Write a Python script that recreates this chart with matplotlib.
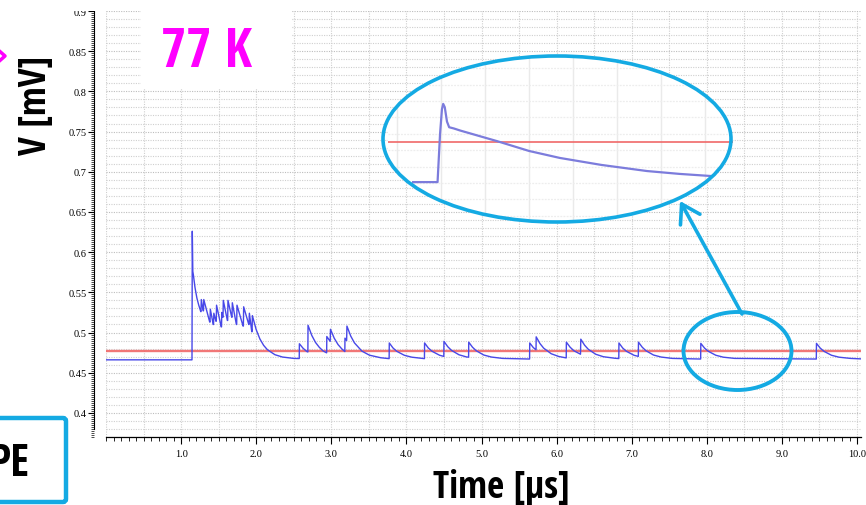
import matplotlib
matplotlib.use("Agg")
import matplotlib.pyplot as plt
from matplotlib.patches import Ellipse, FancyArrowPatch, FancyBboxPatch, Rectangle
from matplotlib.ticker import FixedLocator, MultipleLocator
from matplotlib.transforms import Affine2D
from matplotlib import font_manager
from matplotlib.font_manager import FontProperties

# ---------------- data ----------------
# main simulated trace: time [us], voltage [mV]
time_us = [0.000, 1.145, 1.149, 1.156, 1.163, 1.185, 1.210, 1.235, 1.262,
           1.265, 1.269, 1.294, 1.298, 1.302, 1.381, 1.385, 1.389, 1.428, 1.432, 1.436,
           1.464, 1.468, 1.472, 1.534, 1.538, 1.542, 1.554, 1.558, 1.562, 1.616, 1.620, 1.624,
           1.674, 1.678, 1.682, 1.736, 1.740, 1.744, 1.825, 1.829, 1.833, 1.901, 1.905, 1.909,
           1.941, 1.945, 1.949,
           1.999, 2.049, 2.099, 2.149, 2.249, 2.349, 2.499, 2.573,
           2.575, 2.625, 2.675, 2.688,
           2.690, 2.740, 2.790, 2.840, 2.890, 2.938,
           2.940, 2.985, 2.989, 3.039, 3.089, 3.139, 3.180,
           3.182, 3.204, 3.208, 3.258, 3.308, 3.408, 3.508, 3.658, 3.770,
           3.772, 3.822, 3.872, 3.972, 4.072, 4.240,
           4.242, 4.292, 4.342, 4.442, 4.498,
           4.500, 4.550, 4.600, 4.700, 4.800, 4.828,
           4.830, 4.880, 4.930, 5.030, 5.130, 5.280, 5.640,
           5.642, 5.690, 5.726,
           5.728, 5.778, 5.828, 5.928, 6.028, 6.128,
           6.130, 6.180, 6.230, 6.318,
           6.322, 6.372, 6.422, 6.522, 6.622, 6.772, 6.828,
           6.830, 6.880, 6.930, 7.030, 7.088,
           7.090, 7.140, 7.190, 7.290, 7.390, 7.540, 7.918,
           7.920, 7.970, 8.020, 8.120, 8.220, 8.370, 9.458,
           9.460, 9.510, 9.560, 9.660, 9.760, 9.910, 10.050]
volt_mv = [0.466, 0.466, 0.626, 0.576, 0.572, 0.556, 0.543, 0.534, 0.526,
           0.526, 0.541, 0.527, 0.527, 0.541, 0.513, 0.513, 0.529, 0.510, 0.510, 0.524,
           0.514, 0.514, 0.534, 0.507, 0.507, 0.525, 0.519, 0.519, 0.540, 0.515, 0.515, 0.540,
           0.519, 0.519, 0.537, 0.510, 0.510, 0.534, 0.508, 0.508, 0.532, 0.510, 0.510, 0.524,
           0.501, 0.501, 0.521,
           0.5038, 0.4920, 0.4840, 0.4786, 0.4724, 0.4695, 0.4678, 0.4676,
           0.4860, 0.4803, 0.4763, 0.4758,
           0.5090, 0.4964, 0.4876, 0.4816, 0.4771, 0.4747,
           0.4950, 0.4890, 0.5040, 0.4929, 0.4851, 0.4797, 0.4763,
           0.4930, 0.4900, 0.5080, 0.4957, 0.4871, 0.4768, 0.4718, 0.4686, 0.4675,
           0.4870, 0.4807, 0.4766, 0.4717, 0.4693, 0.4675,
           0.4870, 0.4807, 0.4766, 0.4717, 0.4703,
           0.4890, 0.4824, 0.4778, 0.4723, 0.4696, 0.4693,
           0.4880, 0.4817, 0.4773, 0.4720, 0.4695, 0.4678, 0.4670,
           0.4870, 0.4812, 0.4785,
           0.4946, 0.4863, 0.4805, 0.4736, 0.4702, 0.4684,
           0.4880, 0.4817, 0.4773, 0.4730,
           0.4917, 0.4843, 0.4791, 0.4729, 0.4699, 0.4680, 0.4676,
           0.4870, 0.4807, 0.4766, 0.4717, 0.4703,
           0.4880, 0.4817, 0.4773, 0.4720, 0.4695, 0.4678, 0.4670,
           0.4865, 0.4806, 0.4766, 0.4717, 0.4693, 0.4678, 0.4670,
           0.4865, 0.4806, 0.4766, 0.4717, 0.4693, 0.4678, 0.4672]
threshold_mv = 0.477

# zoomed view of one pulse (inset)
inset_t = [7.880, 7.958, 7.966, 7.972, 7.976, 7.981, 7.988, 7.995, 8.010, 8.030,
           8.148, 8.250, 8.348, 8.480, 8.626, 8.730, 8.827]
inset_v = [0.4672, 0.4672, 0.4790, 0.4850, 0.4863, 0.4855, 0.4820, 0.4806, 0.4803, 0.4798,
           0.4772, 0.4748, 0.4731, 0.4714, 0.4699, 0.4692, 0.4687]

x_major = [1.0, 2.0, 3.0, 4.0, 5.0, 6.0, 7.0, 8.0, 9.0, 10.0]
y_major = [0.4, 0.45, 0.5, 0.55, 0.6, 0.65, 0.7, 0.75, 0.8, 0.85, 0.9]
y_labels = ["0.4", "0.45", "0.5", "0.55", "0.6", "0.65", "0.7", "0.75", "0.8", "0.85", "0.9"]
x_labels = ["1.0", "2.0", "3.0", "4.0", "5.0", "6.0", "7.0", "8.0", "9.0", "10.0"]

title_txt = "77 K"
xlabel_txt = "Time [µs]"
ylabel_txt = "V [mV]"
box_txt = "PE"


# ---------------- font: prefer a condensed bold sans ----------------
def pick_condensed_bold():
    best = None
    best_score = -1
    for f in font_manager.fontManager.ttflist:
        n = (f.name + " " + f.fname).lower()
        cond = ("narrow" in n or "condensed" in n or
                str(f.stretch) in ("condensed", "semi-condensed", "extra-condensed"))
        if not cond or "serif" in f.name.lower() and "sans" not in f.name.lower():
            continue
        if "italic" in n or "oblique" in n or str(f.style) != "normal":
            continue
        w = f.weight if isinstance(f.weight, int) else {"bold": 700, "normal": 400}.get(f.weight, 400)
        score = 0
        if w >= 700 or "bold" in n:
            score += 10
        if "black" in n or "extrabold" in n or "semibold" in n or "light" in n:
            score -= 5
        if "liberation" in n or "arial" in n:
            score += 3
        if "roboto" in n or "open" in n:
            score += 2
        if score > best_score:
            best, best_score = f, score
    if best is not None:
        return FontProperties(fname=best.fname, weight="bold")
    return FontProperties(family="Liberation Sans", weight="bold")


BOLD = pick_condensed_bold()

W, H = 866, 506
fig = plt.figure(figsize=(W / 100, H / 100), dpi=100)
fig.patch.set_facecolor("white")
PIX = Affine2D().scale(1 / W, -1 / H).translate(0, 1) + fig.transFigure


def fx(px):
    return px / W


def fy(py):
    return 1 - py / H


BLUE = "#4848E8"
RED = "#F06868"
CYAN = "#14AAE3"
MAG = "#FF00FF"
GRID = "#CFCFCF"

ax = fig.add_axes([fx(106), fy(438), fx(861) - fx(106), fy(12) - fy(438)])
ax.set_xlim(0, 10.053)
ax.set_ylim(0.37, 0.90)

ax.plot([0, 10.053], [threshold_mv, threshold_mv], color=RED, lw=1.7, alpha=0.9, zorder=3)
ax.plot(time_us, volt_mv, color=BLUE, lw=1.0, zorder=4)

for gx in [0.5 * i for i in range(0, 21)]:
    ax.axvline(gx, color=GRID, lw=0.8, ls=(0, (1, 1.2)), zorder=1)
for i in range(37, 91):
    ax.axhline(i / 100, color=GRID if i % 5 else "#BDBDBD", lw=0.8, ls=(0, (1, 1.2)), zorder=1)

for s in ["top", "right"]:
    ax.spines[s].set_visible(False)
ax.spines["left"].set_position(("outward", 9))
ax.spines["left"].set_bounds(0.38, 0.90)
ax.spines["left"].set_linewidth(0.8)
ax.spines["bottom"].set_linewidth(0.9)

ax.xaxis.set_major_locator(FixedLocator(x_major))
ax.set_xticklabels(x_labels, fontfamily="Liberation Serif", fontsize=7.5)
ax.xaxis.set_minor_locator(MultipleLocator(0.1))
ax.tick_params(axis="x", which="major", length=5, width=0.8, direction="out", pad=4)
ax.tick_params(axis="x", which="minor", length=3, width=0.6, direction="out")

ax.yaxis.set_major_locator(FixedLocator(y_major))
ax.set_yticklabels(y_labels, fontfamily="Liberation Serif", fontsize=7.5)
ax.yaxis.set_minor_locator(MultipleLocator(0.0025))
ax.tick_params(axis="y", which="major", length=4, width=0.8, direction="out", pad=1)
ax.tick_params(axis="y", which="minor", length=2, width=0.5, direction="out")

# ---------------- inset (zoomed pulse) ----------------
ins = fig.add_axes([fx(388), fy(222), fx(733) - fx(388), fy(57) - fy(222)], zorder=5)
ins.set_facecolor("none")
ins.set_xlim(7.80, 8.90)
ins.set_ylim(0.4577, 0.4980)
for s in ins.spines.values():
    s.set_visible(False)
ins.set_xticks([])
ins.set_yticks([])
clip_ell = Ellipse((557, 140), 346, 164, transform=PIX, facecolor="white", edgecolor="none",
                   zorder=0)
ins.add_patch(clip_ell)
ins.patch.set_visible(False)
for k in range(0, 9):
    ln = ins.axvline(7.80 + 0.14 * k + 0.03, color="#EAEAEA", lw=1.0, zorder=1)
    ln.set_clip_path(clip_ell)
for k in range(0, 11):
    ln = ins.axhline(0.4590 + 0.004 * k, color="#EDEDED", lw=0.9, ls=(0, (1.5, 1)), zorder=1)
    ln.set_clip_path(clip_ell)
ins.plot([7.80, 8.90], [threshold_mv, threshold_mv], color=RED, lw=1.4, alpha=0.85, zorder=2)
ins.plot(inset_t, inset_v, color="#7C7CDC", lw=1.6, zorder=3)

# ---------------- overlay annotations in pixel space ----------------
ov = fig.add_axes([0, 0, 1, 1], zorder=10)
ov.set_xlim(0, W)
ov.set_ylim(H, 0)
ov.axis("off")
ov.patch.set_alpha(0)

ov.add_patch(Rectangle((0, 0), W, 12, facecolor="white", edgecolor="none"))
ov.add_patch(Rectangle((141, 0), 151, 89, facecolor="white", edgecolor="none"))

t77 = ov.text(207, 67, title_txt, color=MAG, fontproperties=BOLD, fontsize=39,
              ha="center", va="baseline")
txl = ov.text(501, 498, xlabel_txt, color="black", fontproperties=BOLD, fontsize=27,
              ha="center", va="baseline")
tyl = ov.text(36, 105, ylabel_txt, color="black", fontproperties=BOLD, fontsize=27,
              ha="center", va="center", rotation=90, rotation_mode="anchor")
tpe = ov.text(29, 476, box_txt, color="black", fontproperties=BOLD, fontsize=32,
              ha="right", va="baseline")

# shrink texts if the available condensed face is wider than the original one
rend = fig.canvas.get_renderer()
w_t = txl.get_window_extent(rend).width
k = min(1.0, 137.0 / w_t)
txl.set_fontsize(27 * k)
tyl.set_fontsize(27 * k)
tpe.set_fontsize(32 * k)
w_77 = t77.get_window_extent(rend).width
t77.set_fontsize(39 * min(1.0, 93.0 / w_77))

ov.add_patch(Ellipse((557, 140), 348, 166, fill=False, edgecolor=CYAN, lw=2.6))
ov.add_patch(Ellipse((737.5, 352), 108, 78, fill=False, edgecolor=CYAN, lw=2.8))
ov.add_patch(FancyArrowPatch((742, 315), (680, 202), arrowstyle="->,head_length=8,head_width=5",
                             color=CYAN, lw=2.6, mutation_scale=1.6, shrinkA=0, shrinkB=0))

ov.add_patch(FancyBboxPatch((-30, 419), 96, 84, boxstyle="round,pad=0,rounding_size=3",
                            fill=False, edgecolor=CYAN, lw=3.2))

ov.plot([-4, 5, -4], [49, 57, 65], color=MAG, lw=2.5, solid_capstyle="butt")

fig.savefig("out.png", dpi=100, facecolor="white")
